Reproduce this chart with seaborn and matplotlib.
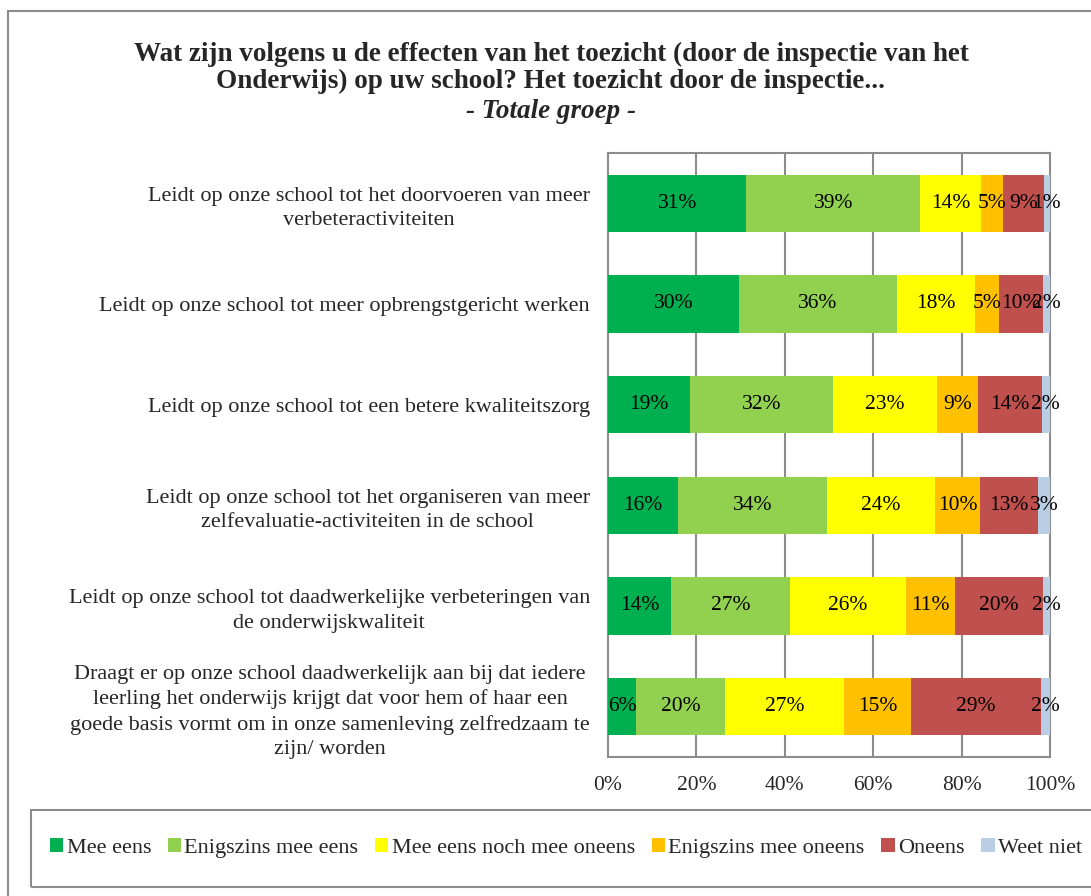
import matplotlib
matplotlib.use("Agg")
import matplotlib.pyplot as plt
from matplotlib.patches import Rectangle, Patch
import numpy as np
import pandas as pd
import seaborn as sns

questions = [
    "Leidt op onze school tot het doorvoeren van meer\nverbeteractiviteiten",
    "Leidt op onze school tot meer opbrengstgericht werken",
    "Leidt op onze school tot een betere kwaliteitszorg",
    "Leidt op onze school tot het organiseren van meer\nzelfevaluatie-activiteiten in de school",
    "Leidt op onze school tot daadwerkelijke verbeteringen van\nde onderwijskwaliteit",
    "Draagt er op onze school daadwerkelijk aan bij dat iedere\nleerling het onderwijs krijgt dat voor hem of haar een\ngoede basis vormt om in onze samenleving zelfredzaam te\nzijn/ worden",
]
categories = ["Mee eens", "Enigszins mee eens", "Mee eens noch mee oneens",
              "Enigszins mee oneens", "Oneens", "Weet niet"]
mee_eens = [31.3, 29.6, 18.6, 15.8, 14.2, 6.4]
enigszins_eens = [39.4, 35.8, 32.4, 33.8, 27.0, 20.1]
neutraal = [13.8, 17.6, 23.4, 24.4, 26.2, 26.9]
enigszins_oneens = [4.8, 5.4, 9.3, 10.2, 11.1, 15.2]
oneens = [9.3, 10.1, 14.4, 13.1, 19.9, 29.4]
weet_niet = [1.4, 1.5, 1.9, 2.7, 1.6, 2.0]
colors = ["#00B050", "#92D050", "#FFFF00", "#FFC000", "#C0504D", "#B9CDE5"]
x_ticks = [0, 20, 40, 60, 80, 100]
x_ticklabels = ["0%", "20%", "40%", "60%", "80%", "100%"]

series = [mee_eens, enigszins_eens, neutraal, enigszins_oneens, oneens, weet_niet]
vals = np.array(series)            # (6 cats, 6 questions)
cum = np.cumsum(vals, axis=0)

sns.set_style("white")
plt.rcParams["font.family"] = ["Liberation Serif", "DejaVu Serif"]

fig = plt.figure(figsize=(10.91, 8.96), dpi=100)
ax = fig.add_axes([608 / 1091, 1 - 757 / 896, 442 / 1091, 604 / 896])

# draw cumulative bars from largest to smallest (stacked look)
for i in range(len(categories) - 1, -1, -1):
    df = pd.DataFrame({"q": questions, "v": cum[i]})
    sns.barplot(data=df, x="v", y="q", orient="h", color=colors[i],
                width=0.57, saturation=1, ax=ax, zorder=3, linewidth=0)

# labels
for i in range(len(categories)):
    for j in range(len(questions)):
        center = cum[i, j] - vals[i, j] / 2
        ax.text(center, j, f"{vals[i, j]:.0f}%", ha="center", va="center",
                fontsize=15.5, color="black", zorder=5)

ax.set_xlim(0, 100)
ax.set_ylim(5.5, -0.5)
ax.set_xticks(x_ticks)
ax.set_xticklabels(x_ticklabels, fontsize=15.5)
ax.set_yticks(range(len(questions)))
ax.set_yticklabels(questions, fontsize=16, multialignment="center",
                   linespacing=1.38)
ax.tick_params(axis="y", length=0, pad=13)
ax.tick_params(axis="x", length=0, pad=14)
ax.set_xlabel("")
ax.set_ylabel("")
for v in x_ticks[1:-1]:
    ax.axvline(v, color="#8C8C8C", linewidth=1.5, zorder=1)
for s in ax.spines.values():
    s.set_color("#8C8C8C")
    s.set_linewidth(1.5)

fig.text(0.505, 1 - 68 / 896,
         "Wat zijn volgens u de effecten van het toezicht (door de inspectie van het\n"
         "Onderwijs) op uw school? Het toezicht door de inspectie...",
         ha="center", va="center", fontsize=19.5, fontweight="bold",
         linespacing=1.12)
fig.text(0.505, 1 - 111 / 896, "- Totale groep -", ha="center", va="center",
         fontsize=19.5, fontweight="bold", fontstyle="italic")

# outer border and legend box
fig.patches.append(Rectangle((8 / 1091, -0.05), 1.2, 1 - 11 / 896 + 0.05,
                             transform=fig.transFigure, fill=False,
                             edgecolor="#8C8C8C", linewidth=1.5))
fig.patches.append(Rectangle((31 / 1091, 1 - 887 / 896), 1.2, 77 / 896,
                             transform=fig.transFigure, fill=False,
                             edgecolor="#8C8C8C", linewidth=1.5))

handles = [Patch(facecolor=c, edgecolor="none") for c in colors]
fig.legend(handles, categories, loc="center left", ncol=6,
           bbox_to_anchor=(50 / 1091, 1 - 848 / 896), frameon=False,
           fontsize=16, handlelength=0.6, handleheight=0.6,
           handletextpad=0.15, columnspacing=0.75, borderaxespad=0,
           borderpad=0)

fig.savefig("out.png", dpi=100)
